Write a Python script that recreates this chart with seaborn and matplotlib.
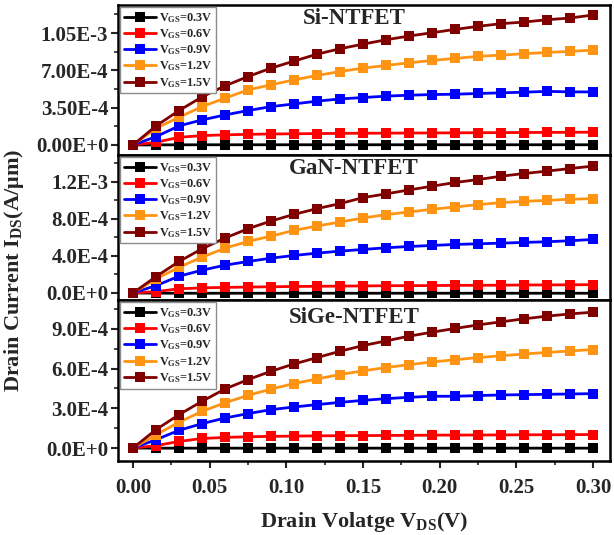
import numpy as np
import pandas as pd
import matplotlib
matplotlib.use("Agg")
import matplotlib.pyplot as plt
from matplotlib.ticker import FixedLocator, AutoMinorLocator, MultipleLocator
import seaborn as sns

# ---- data -------------------------------------------------------------
vds = [0.000, 0.015, 0.030, 0.045, 0.060, 0.075, 0.090, 0.105, 0.120, 0.135,
       0.150, 0.165, 0.180, 0.195, 0.210, 0.225, 0.240, 0.255, 0.270, 0.285, 0.300]

vgs_labels = ["0.3", "0.6", "0.9", "1.2", "1.5"]

si_03 = [0, 1.0e-6, 1.5e-6, 2.0e-6, 2.0e-6, 2.0e-6, 2.0e-6, 2.0e-6, 2.0e-6, 2.0e-6,
         2.0e-6, 2.0e-6, 2.0e-6, 2.0e-6, 2.0e-6, 2.0e-6, 2.0e-6, 2.0e-6, 2.0e-6, 2.0e-6, 2.0e-6]
si_06 = [0, 2.5e-5, 7.2e-5, 8.8e-5, 9.5e-5, 1.00e-4, 1.03e-4, 1.05e-4, 1.07e-4, 1.09e-4,
         1.10e-4, 1.11e-4, 1.12e-4, 1.13e-4, 1.14e-4, 1.15e-4, 1.16e-4, 1.17e-4, 1.18e-4, 1.19e-4, 1.20e-4]
si_09 = [0, 7.8e-5, 1.79e-4, 2.35e-4, 2.82e-4, 3.23e-4, 3.60e-4, 3.85e-4, 4.11e-4, 4.32e-4,
         4.45e-4, 4.58e-4, 4.67e-4, 4.73e-4, 4.76e-4, 4.83e-4, 4.89e-4, 4.95e-4, 5.03e-4, 4.98e-4, 4.98e-4]
si_12 = [0, 1.57e-4, 2.60e-4, 3.60e-4, 4.39e-4, 5.17e-4, 5.64e-4, 6.11e-4, 6.52e-4, 6.89e-4,
         7.21e-4, 7.46e-4, 7.71e-4, 7.93e-4, 8.12e-4, 8.31e-4, 8.43e-4, 8.56e-4, 8.68e-4, 8.78e-4, 8.90e-4]
si_15 = [0, 1.79e-4, 3.23e-4, 4.51e-4, 5.55e-4, 6.42e-4, 7.21e-4, 7.87e-4, 8.52e-4, 9.03e-4,
         9.46e-4, 9.87e-4, 1.022e-3, 1.053e-3, 1.084e-3, 1.113e-3, 1.138e-3, 1.153e-3, 1.175e-3, 1.191e-3, 1.219e-3]

gan_03 = [0, -2.0e-6, -3.0e-6, -3.0e-6, -3.0e-6, -3.0e-6, -3.0e-6, -3.0e-6, -3.0e-6, -3.0e-6,
          -3.0e-6, -3.0e-6, -3.0e-6, -3.0e-6, -3.0e-6, -3.0e-6, -3.0e-6, -3.0e-6, -3.0e-6, -3.0e-6, -3.0e-6]
gan_06 = [0, 1.5e-5, 4.5e-5, 5.5e-5, 6.0e-5, 6.4e-5, 6.7e-5, 7.0e-5, 7.2e-5, 7.4e-5,
          7.6e-5, 7.8e-5, 7.9e-5, 8.0e-5, 8.2e-5, 8.3e-5, 8.4e-5, 8.6e-5, 8.7e-5, 8.8e-5, 9.0e-5]
gan_09 = [0, 7.95e-5, 1.81e-4, 2.46e-4, 3.00e-4, 3.40e-4, 3.76e-4, 4.05e-4, 4.30e-4, 4.52e-4,
          4.70e-4, 4.88e-4, 5.02e-4, 5.13e-4, 5.24e-4, 5.31e-4, 5.38e-4, 5.46e-4, 5.53e-4, 5.64e-4, 5.78e-4]
gan_12 = [0, 1.52e-4, 2.78e-4, 3.87e-4, 4.84e-4, 5.57e-4, 6.14e-4, 6.76e-4, 7.23e-4, 7.66e-4,
          8.10e-4, 8.46e-4, 8.75e-4, 9.04e-4, 9.29e-4, 9.54e-4, 9.76e-4, 9.90e-4, 1.000e-3, 1.012e-3, 1.019e-3]
gan_15 = [0, 1.77e-4, 3.40e-4, 4.77e-4, 5.93e-4, 6.94e-4, 7.77e-4, 8.49e-4, 9.11e-4, 9.65e-4,
          1.030e-3, 1.070e-3, 1.113e-3, 1.153e-3, 1.193e-3, 1.225e-3, 1.261e-3, 1.290e-3, 1.316e-3, 1.344e-3, 1.370e-3]

sige_03 = [0, -1.0e-6, -1.0e-6, -1.0e-6, -1.0e-6, -1.0e-6, -1.0e-6, -1.0e-6, -1.0e-6, -1.0e-6,
           -1.0e-6, -1.0e-6, -1.0e-6, -1.0e-6, -1.0e-6, -1.0e-6, -1.0e-6, -1.0e-6, -1.0e-6, -1.0e-6, -1.0e-6]
sige_06 = [0, 1.8e-5, 5.0e-5, 7.2e-5, 8.0e-5, 8.5e-5, 8.8e-5, 9.0e-5, 9.2e-5, 9.3e-5,
           9.4e-5, 9.5e-5, 9.6e-5, 9.7e-5, 9.8e-5, 9.8e-5, 9.9e-5, 1.00e-4, 1.00e-4, 1.01e-4, 1.02e-4]
sige_09 = [0, 6.3e-5, 1.34e-4, 1.84e-4, 2.27e-4, 2.60e-4, 2.90e-4, 3.10e-4, 3.28e-4, 3.45e-4,
           3.60e-4, 3.73e-4, 3.83e-4, 3.91e-4, 3.91e-4, 3.96e-4, 4.01e-4, 4.03e-4, 4.06e-4, 4.08e-4, 4.11e-4]
sige_12 = [0, 1.00e-4, 1.95e-4, 2.77e-4, 3.42e-4, 3.98e-4, 4.45e-4, 4.87e-4, 5.22e-4, 5.55e-4,
           5.83e-4, 6.08e-4, 6.30e-4, 6.50e-4, 6.67e-4, 6.83e-4, 6.97e-4, 7.10e-4, 7.22e-4, 7.33e-4, 7.44e-4]
sige_15 = [0, 1.39e-4, 2.52e-4, 3.53e-4, 4.46e-4, 5.17e-4, 5.80e-4, 6.35e-4, 6.83e-4, 7.31e-4,
           7.74e-4, 8.09e-4, 8.45e-4, 8.75e-4, 9.03e-4, 9.30e-4, 9.53e-4, 9.76e-4, 9.96e-4, 1.013e-3, 1.026e-3]

devices = ["Si-NTFET", "GaN-NTFET", "SiGe-NTFET"]
device_curves = [
    [si_03, si_06, si_09, si_12, si_15],
    [gan_03, gan_06, gan_09, gan_12, gan_15],
    [sige_03, sige_06, sige_09, sige_12, sige_15],
]

si_yticks = [0.0, 3.5e-4, 7.0e-4, 1.05e-3]
si_yticklabels = ["0.00E+0", "3.50E-4", "7.00E-4", "1.05E-3"]
gan_yticks = [0.0, 4.0e-4, 8.0e-4, 1.2e-3]
gan_yticklabels = ["0.0E+0", "4.0E-4", "8.0E-4", "1.2E-3"]
sige_yticks = [0.0, 3.0e-4, 6.0e-4, 9.0e-4]
sige_yticklabels = ["0.0E+0", "3.0E-4", "6.0E-4", "9.0E-4"]
xticks = [0.00, 0.05, 0.10, 0.15, 0.20, 0.25, 0.30]
xticklabels = ["0.00", "0.05", "0.10", "0.15", "0.20", "0.25", "0.30"]

# ---- styling ----------------------------------------------------------
sns.set_theme(style="ticks")
plt.rcParams["font.family"] = ["Liberation Serif", "DejaVu Serif"]
plt.rcParams["font.weight"] = "bold"
plt.rcParams["mathtext.fontset"] = "custom"
plt.rcParams["mathtext.rm"] = "Liberation Serif:bold"
plt.rcParams["mathtext.bf"] = "Liberation Serif:bold"
plt.rcParams["mathtext.it"] = "Liberation Serif:bold"

palette = ["#000000", "#ff0000", "#0000ff", "#ff9412", "#800000"]

fig = plt.figure(figsize=(6.14, 5.35), dpi=100)
W, H = 614.0, 535.0
left, right = 118 / W, 610 / W
panel_px = [(5, 155), (155, 300), (300, 461)]
ylims = [(-9.4e-5, 1.313e-3), (-7.6e-5, 1.49e-3), (-9.8e-5, 1.118e-3)]
ytick_sets = [(si_yticks, si_yticklabels), (gan_yticks, gan_yticklabels),
              (sige_yticks, sige_yticklabels)]
title_y = [0.91, 0.91, 0.89]

axes = []
for i, (top, bot) in enumerate(panel_px):
    ax = fig.add_axes([left, 1 - bot / H, right - left, (bot - top) / H])
    rows = []
    for lab, vals in zip(vgs_labels, device_curves[i]):
        for x, y in zip(vds, vals):
            rows.append({"Vds": x, "Ids": y, "Vgs": lab})
    df = pd.DataFrame(rows)
    sns.lineplot(data=df, x="Vds", y="Ids", hue="Vgs", hue_order=vgs_labels,
                 palette=palette, marker="s", markersize=7, markeredgewidth=0,
                 linewidth=2, errorbar=None, legend=False, ax=ax)

    ax.set_xlim(-0.0098, 0.311)
    ax.set_ylim(*ylims[i])
    ticks, labels = ytick_sets[i]
    ax.yaxis.set_major_locator(FixedLocator(ticks))
    ax.set_yticklabels(labels)
    ax.yaxis.set_minor_locator(AutoMinorLocator(2))
    ax.tick_params(axis="y", which="major", direction="out", length=5, width=1.5,
                   labelsize=15, pad=2)
    ax.tick_params(axis="y", which="minor", direction="out", length=3, width=1.2)
    for sp in ax.spines.values():
        sp.set_linewidth(1.8)
        sp.set_color("black")
    ax.set_xlabel("")
    ax.set_ylabel("")

    ax.text(0.48, title_y[i], devices[i], transform=ax.transAxes, ha="center",
            va="center", fontsize=16.5, fontweight="bold")

    handles = ax.get_lines()[:5]
    leg = ax.legend(handles, [r"V$_{\rm GS}$=" + v + "V" for v in vgs_labels],
                    loc="upper left", bbox_to_anchor=(0.005, 0.985), borderaxespad=0,
                    fontsize=8.8, frameon=True, fancybox=False, framealpha=1,
                    edgecolor="#8c8c8c", handlelength=2.6, handletextpad=0.25,
                    labelspacing=0.2, borderpad=0.3)
    leg.get_frame().set_linewidth(1.0)
    for t in leg.get_texts():
        t.set_fontweight("bold")

    if i < 2:
        ax.tick_params(axis="x", which="both", bottom=False, labelbottom=False)
    else:
        ax.xaxis.set_major_locator(FixedLocator(xticks))
        ax.set_xticklabels(xticklabels)
        ax.xaxis.set_minor_locator(MultipleLocator(0.025))
        ax.tick_params(axis="x", which="major", direction="out", length=5, width=1.5,
                       labelsize=15, pad=7)
        ax.tick_params(axis="x", which="minor", direction="out", length=3, width=1.2)
        ax.set_xlabel(r"Drain Volatge V$_{\rm DS}$(V)", fontsize=16,
                      fontweight="bold", labelpad=9)
    axes.append(ax)

fig.text(14 / W, 1 - 270 / H, r"Drain Current I$_{\rm DS}$(A/μm)", rotation=90,
         ha="center", va="center", fontsize=16, fontweight="bold")

fig.savefig("out.png", dpi=100)
